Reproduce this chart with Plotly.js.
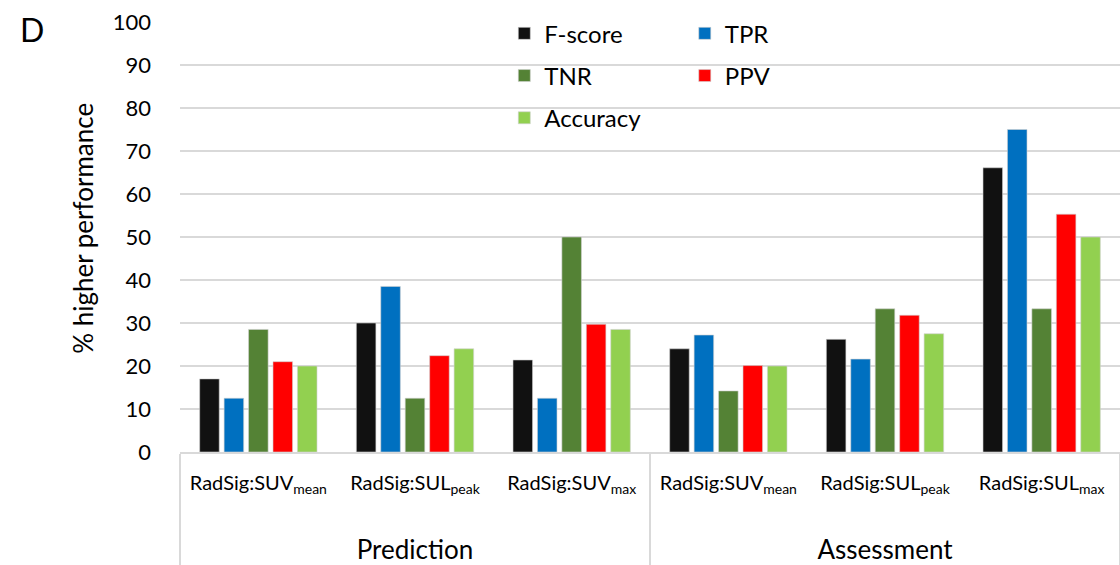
<!DOCTYPE html>
<html>
<head>
<meta charset="utf-8">
<script src="https://cdn.plot.ly/plotly-3.0.1.min.js"></script>
<style>html,body{margin:0;padding:0;background:#fff;}#chart{width:1120px;height:565px;}</style>
</head>
<body>
<div id="chart"></div>
<script>
const outerGroups = ["Prediction","Prediction","Prediction","Assessment","Assessment","Assessment"];
const innerLabels = ["RadSig:SUV<sub>mean</sub>","RadSig:SUL<sub>peak</sub>","RadSig:SUV<sub>max</sub>",
                     "RadSig:SUV<sub>mean</sub>","RadSig:SUL<sub>peak</sub>","RadSig:SUL<sub>max</sub>"];
const fscore   = [17, 30, 21.4, 24, 26.2, 66.1];
const tpr      = [12.5, 38.5, 12.5, 27.2, 21.6, 75];
const tnr      = [28.5, 12.5, 50, 14.2, 33.3, 33.3];
const ppv      = [21, 22.4, 29.7, 20.1, 31.8, 55.3];
const accuracy = [20, 24, 28.5, 20, 27.5, 50];

const seriesNames  = ["F-score","TPR","TNR","PPV","Accuracy"];
const seriesValues = [fscore, tpr, tnr, ppv, accuracy];
const seriesColors = ["#111111","#0070C0","#548235","#FF0000","#92D050"];
const seriesLegend = ["legend","legend2","legend","legend2","legend"];

const FONT = "Lato, 'Open Sans', sans-serif";

// outer group labels drawn larger and lower, as in the reference
const outerShown = outerGroups.map(g => "<br><br><span style='font-size:26px'>" + g + "</span>");

const traces = seriesNames.map((n,i)=>({
  type:"bar",
  name:n,
  x:[outerShown, innerLabels],
  y:seriesValues[i],
  marker:{color:seriesColors[i], line:{color:"#d0d0d0", width:0.6}},
  legend:seriesLegend[i],
  legendgroup:n,
  hoverinfo:"y"
}));

const layout = {
  width:1120, height:565,
  margin:{l:180, r:0, t:22, b:113},
  paper_bgcolor:"#fff", plot_bgcolor:"#fff",
  font:{family:FONT, color:"#000"},
  barmode:"group",
  bargap:0.22,
  bargroupgap:0.2,
  showlegend:true,
  xaxis:{
    type:"multicategory",
    tickfont:{family:FONT, size:20, color:"#000"},
    showline:true, linecolor:"#d9d9d9", linewidth:1.5,
    showgrid:false,
    showdividers:true, dividercolor:"#d9d9d9", dividerwidth:1.5,
    ticks:"", ticklabelstandoff:12, fixedrange:true
  },
  yaxis:{
    range:[0,100],
    tickvals:[0,10,20,30,40,50,60,70,80,90,100],
    tickfont:{family:FONT, size:22, color:"#000"},
    showgrid:true, gridcolor:"#d9d9d9", gridwidth:1.5,
    zeroline:false, showline:false,
    ticks:"", ticklabelstandoff:28, fixedrange:true
  },
  legend:{
    x:0.345, xanchor:"left", y:1.025, yanchor:"top",
    bgcolor:"rgba(0,0,0,0)", font:{family:FONT, size:24, color:"#000"},
    tracegroupgap:8, itemclick:false, itemdoubleclick:false
  },
  legend2:{
    x:0.537, xanchor:"left", y:1.025, yanchor:"top",
    bgcolor:"rgba(0,0,0,0)", font:{family:FONT, size:24, color:"#000"},
    tracegroupgap:8, itemclick:false, itemdoubleclick:false
  },
  annotations:[
    {text:"% higher performance", xref:"paper", yref:"paper", x:0, y:0.519,
     xanchor:"center", yanchor:"middle", textangle:-90, showarrow:false,
     font:{family:FONT, size:26, color:"#000"}, xshift:83-180},
    {text:"D", xref:"paper", yref:"paper", x:0, y:1, xanchor:"left", yanchor:"top",
     showarrow:false, font:{family:FONT, size:32, color:"#000"}, xshift:-180+18, yshift:14}
  ]
};

Plotly.newPlot("chart", traces, layout, {displayModeBar:false, staticPlot:true});
</script>
</body>
</html>
